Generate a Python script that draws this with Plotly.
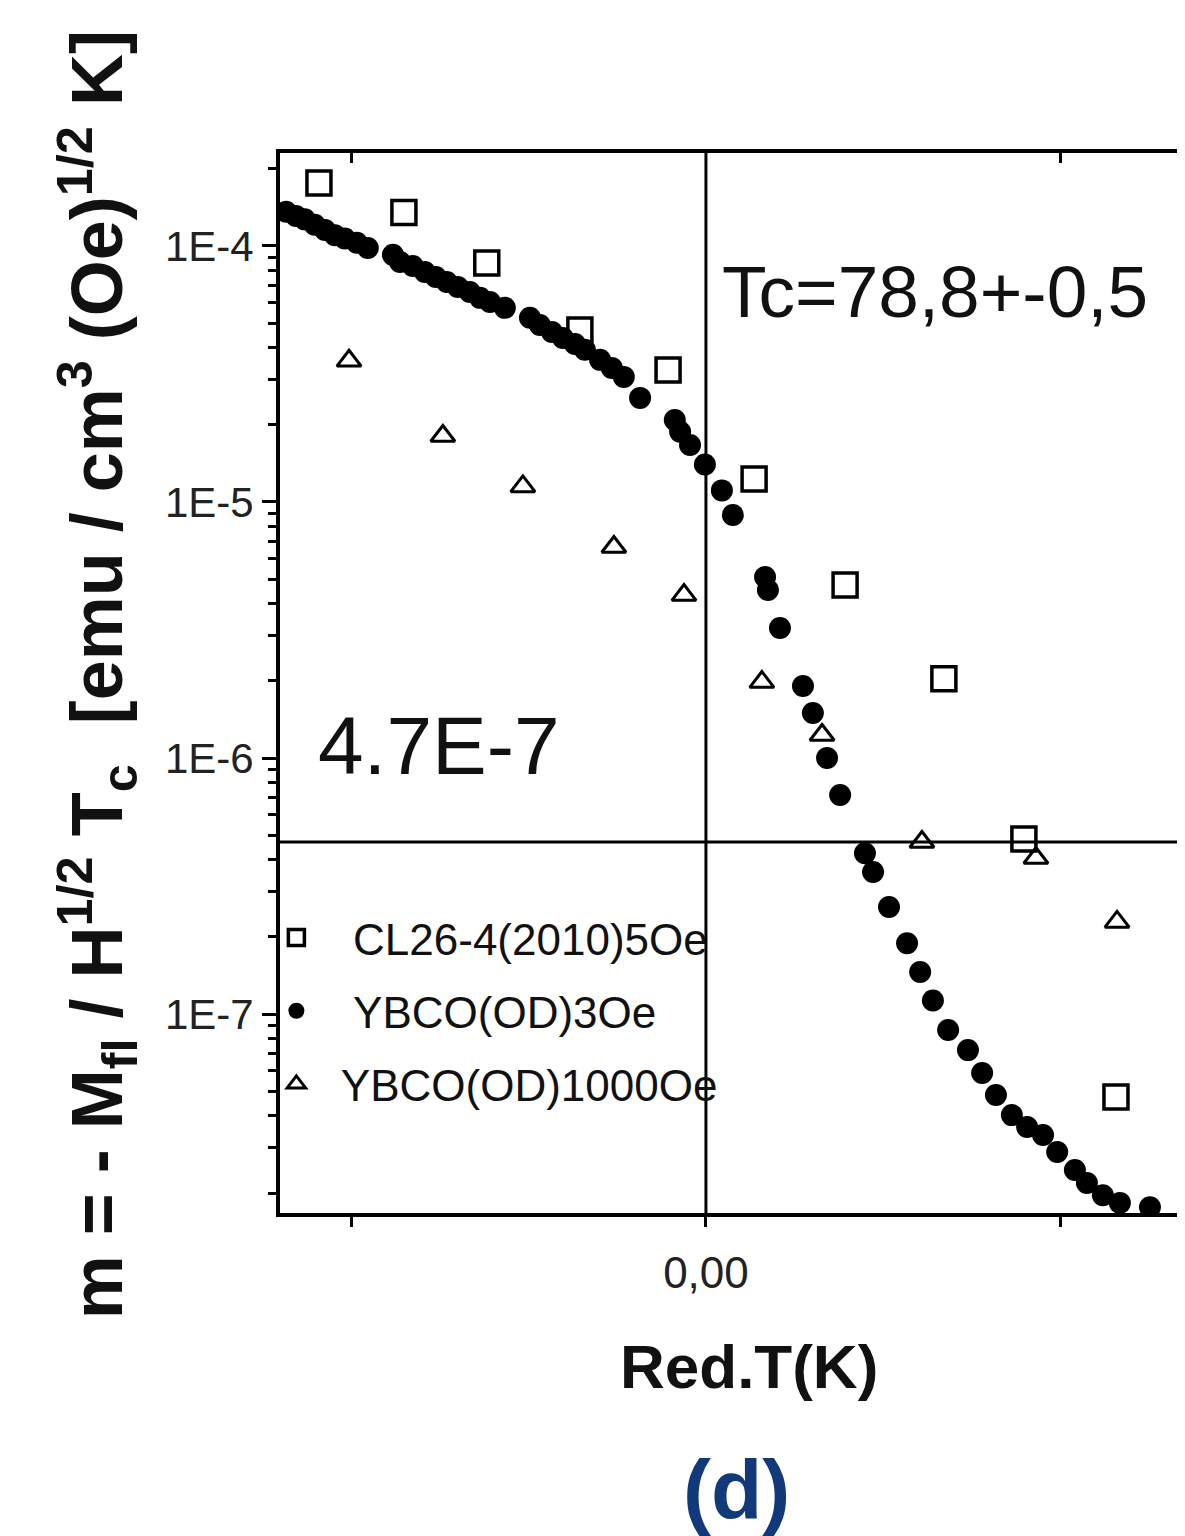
import plotly.graph_objects as go

# ---------------- data ----------------
cl26_x = [-0.1093, -0.0853, -0.0619, -0.0356, -0.0107, 0.0136, 0.0393, 0.0672, 0.0898, 0.1158]
cl26_y = [1.76e-4, 1.35e-4, 8.58e-5, 4.70e-5, 3.28e-5, 1.23e-5, 4.74e-6, 2.04e-6, 4.83e-7, 4.74e-8]

ybco3_x = [-0.1186, -0.1158, -0.1133, -0.1105, -0.1076, -0.1048, -0.1020, -0.0986, -0.0955,
           -0.0884, -0.0864, -0.0828, -0.0794, -0.0763, -0.0732, -0.0701, -0.0667, -0.0638,
           -0.0610, -0.0568, -0.0497, -0.0469, -0.0435, -0.0404, -0.0370, -0.0342, -0.0299,
           -0.0266, -0.0232, -0.0186, -0.0088, -0.0073, -0.0045, -0.0003, 0.0045, 0.0076,
           0.0167, 0.0175, 0.0209, 0.0274, 0.0302, 0.0342, 0.0379, 0.0449, 0.0472, 0.0517,
           0.0568, 0.0605, 0.0641, 0.0684, 0.0740, 0.0780, 0.0819, 0.0864, 0.0907, 0.0952,
           0.0992, 0.1042, 0.1076, 0.1121, 0.1169, 0.1254]
ybco3_y = [1.36e-4, 1.31e-4, 1.27e-4, 1.21e-4, 1.155e-4, 1.10e-4, 1.07e-4, 1.03e-4, 9.82e-5,
           9.23e-5, 8.66e-5, 8.35e-5, 7.91e-5, 7.56e-5, 7.23e-5, 6.92e-5, 6.61e-5, 6.27e-5,
           6.04e-5, 5.73e-5, 5.24e-5, 4.91e-5, 4.61e-5, 4.37e-5, 4.14e-5, 3.93e-5, 3.59e-5,
           3.34e-5, 3.08e-5, 2.55e-5, 2.09e-5, 1.88e-5, 1.67e-5, 1.40e-5, 1.11e-5, 8.89e-6,
           5.09e-6, 4.53e-6, 3.22e-6, 1.91e-6, 1.50e-6, 1.00e-6, 7.17e-7, 4.25e-7, 3.59e-7,
           2.62e-7, 1.89e-7, 1.46e-7, 1.13e-7, 8.66e-8, 7.23e-8, 5.89e-8, 4.83e-8, 4.03e-8,
           3.62e-8, 3.37e-8, 2.89e-8, 2.46e-8, 2.19e-8, 1.96e-8, 1.83e-8, 1.76e-8]

ybco1000_x = [-0.1008, -0.0743, -0.0517, -0.0260, -0.0062, 0.0158, 0.0328, 0.0610, 0.0932, 0.1161]
ybco1000_y = [3.56e-5, 1.81e-5, 1.15e-5, 6.67e-6, 4.33e-6, 1.98e-6, 1.23e-6, 4.70e-7, 4.07e-7, 2.29e-7]

series_names = ["CL26-4(2010)5Oe", "YBCO(OD)3Oe", "YBCO(OD)1000Oe"]
x_tick_vals = [-0.1, 0.0, 0.1]
x_tick_text = ["", "0,00", ""]
y_tick_vals = [1e-7, 1e-6, 1e-5, 1e-4]
y_tick_text = ["1E-7", "1E-6", "1E-5", "1E-4"]
x_range = [-0.1203, 0.1353]
y_range_log = [-7.777, -3.637]
tc_line_x = 0.0
threshold_y = 4.7e-7
tc_label = "Tc=78,8+-0,5"
threshold_label = "4.7E-7"

FONT = "Liberation Sans, Arial, sans-serif"

fig = go.Figure()

nb = "\u00a0"
fig.add_trace(go.Scatter(
    x=cl26_x, y=cl26_y, mode="markers", name=nb * 3 + series_names[0], legendgroup="a",
    marker=dict(symbol="square-open", size=24, color="black", line=dict(width=3.5, color="black")),
))
fig.add_trace(go.Scatter(
    x=ybco3_x, y=ybco3_y, mode="markers", name=nb * 3 + series_names[1], legendgroup="b",
    marker=dict(symbol="circle", size=22, color="black", line=dict(width=0)),
))
fig.add_trace(go.Scatter(
    x=ybco1000_x, y=ybco1000_y, mode="markers", name=nb * 2 + series_names[2], legendgroup="c",
    marker=dict(symbol="triangle-up-open", size=21, color="black", line=dict(width=3, color="black")),
))
# invisible trace on the top axis so that it is drawn
fig.add_trace(go.Scatter(x=[x_range[0]], y=[1e-6], xaxis="x2", mode="markers",
                         marker=dict(opacity=0), showlegend=False, hoverinfo="skip"))

fig.update_layout(
    width=1177, height=1528,
    margin=dict(l=272, r=0, t=145, b=323),
    paper_bgcolor="white", plot_bgcolor="white",
    showlegend=True,
    legend=dict(
        x=-0.004, y=0.293, xanchor="left", yanchor="top",
        bgcolor="rgba(0,0,0,0)", borderwidth=0,
        font=dict(family=FONT, size=44, color="#111111"),
        traceorder="grouped", tracegroupgap=13, itemsizing="trace",
    ),
    xaxis=dict(
        range=x_range, showgrid=False, zeroline=False,
        showline=True, linewidth=4, linecolor="black", mirror=True,
        tickmode="array", tickvals=x_tick_vals, ticktext=x_tick_text,
        ticks="outside", ticklen=10, tickwidth=3, tickcolor="black",
        tickfont=dict(family=FONT, size=44, color="#222222"),
        ticklabelstandoff=8,
    ),
    xaxis2=dict(
        range=x_range, overlaying="x", side="top", anchor="y",
        showgrid=False, zeroline=False, showline=False,
        tickmode="array", tickvals=[-0.1, 0.1], ticktext=["", ""],
        ticks="inside", ticklen=10, tickwidth=3, tickcolor="black",
        showticklabels=False,
    ),
    yaxis=dict(
        type="log", range=y_range_log, showgrid=False, zeroline=False,
        showline=True, linewidth=4, linecolor="black", mirror=False,
        tickmode="array", tickvals=y_tick_vals, ticktext=y_tick_text,
        ticks="outside", ticklen=14, tickwidth=3, tickcolor="black",
        tickfont=dict(family=FONT, size=42, color="#222222"),
        ticklabelstandoff=0,
        minor=dict(ticks="outside", ticklen=8, tickwidth=3, tickcolor="black", dtick="D1", showgrid=False),
    ),
    shapes=[
        dict(type="line", xref="x", yref="paper", x0=tc_line_x, x1=tc_line_x, y0=0, y1=1,
             line=dict(color="black", width=3)),
        dict(type="line", xref="paper", yref="y", x0=0, x1=1, y0=threshold_y, y1=threshold_y,
             line=dict(color="black", width=3)),
    ],
    annotations=[
        dict(text=tc_label, xref="paper", yref="paper", x=0.486, y=0.869,
             xanchor="left", yanchor="middle", showarrow=False,
             font=dict(family=FONT, size=73, color="#111111")),
        dict(text=threshold_label, xref="paper", yref="paper", x=0.040, y=0.4406,
             xanchor="left", yanchor="middle", showarrow=False,
             font=dict(family=FONT, size=82, color="#111111")),
        dict(text="<b>Red.T(K)</b>", xref="paper", yref="paper", x=0.518, y=-0.145,
             xanchor="center", yanchor="middle", showarrow=False,
             font=dict(family=FONT, size=62, color="#111111")),
        dict(text="<b>(d)</b>", xref="paper", yref="paper", x=0.504, y=-0.261,
             xanchor="center", yanchor="middle", showarrow=False,
             font=dict(family=FONT, size=84, color="#12397a")),
        dict(text="<b>m = - M<sub>fl</sub> / H<sup>1/2</sup> T<sub>c</sub>&nbsp;&nbsp;[emu / cm<sup>3</sup> (Oe)<sup>1/2</sup> K]</b>",
             xref="paper", yref="paper", x=-0.202, y=0.5075, textangle=-90,
             xanchor="center", yanchor="middle", showarrow=False,
             font=dict(family=FONT, size=72, color="#111111")),
    ],
)

fig.write_html("out.html")
